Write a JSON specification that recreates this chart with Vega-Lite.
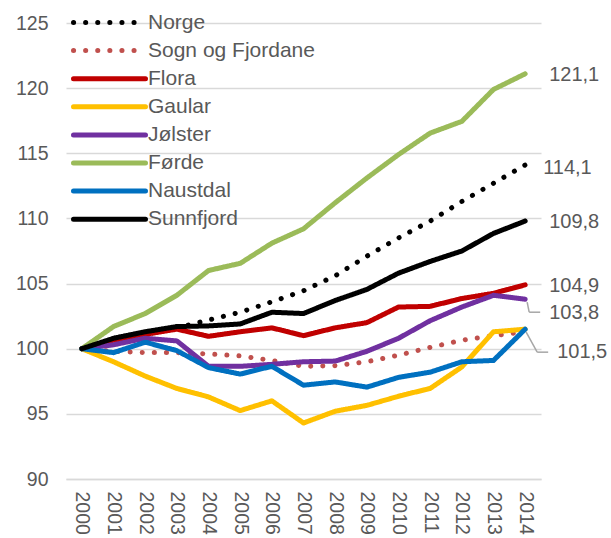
{
  "$schema": "https://vega.github.io/schema/vega-lite/v6.json",
  "width": 475,
  "height": 456,
  "autosize": {"type": "none"},
  "padding": {"left": 66, "top": 23, "right": 70, "bottom": 59},
  "background": "white",
  "config": {
    "view": {"stroke": null},
    "font": "Liberation Sans",
    "locale": {"number": {"decimal": ",", "thousands": " ", "grouping": [3], "currency": ["", " kr"]}}
  },
  "data": {
    "values": [
      {"year": "2000", "Norge": 100, "Sogn og Fjordane": 100, "Flora": 100, "Gaular": 100, "Jølster": 100, "Førde": 100, "Naustdal": 100, "Sunnfjord": 100},
      {"year": "2001", "Norge": 100.6, "Sogn og Fjordane": 99.8, "Flora": 100.65, "Gaular": 99.0, "Jølster": 100.3, "Førde": 101.7, "Naustdal": 99.7, "Sunnfjord": 100.8},
      {"year": "2002", "Norge": 101.1, "Sogn og Fjordane": 99.7, "Flora": 101.1, "Gaular": 97.9, "Jølster": 100.8, "Førde": 102.7, "Naustdal": 100.5, "Sunnfjord": 101.3},
      {"year": "2003", "Norge": 101.6, "Sogn og Fjordane": 99.7, "Flora": 101.5, "Gaular": 96.95, "Jølster": 100.6, "Førde": 104.1, "Naustdal": 99.85, "Sunnfjord": 101.7},
      {"year": "2004", "Norge": 102.2, "Sogn og Fjordane": 99.6, "Flora": 100.95, "Gaular": 96.3, "Jølster": 98.65, "Førde": 106.0, "Naustdal": 98.55, "Sunnfjord": 101.75},
      {"year": "2005", "Norge": 102.8, "Sogn og Fjordane": 99.45, "Flora": 101.3, "Gaular": 95.25, "Jølster": 98.65, "Førde": 106.55, "Naustdal": 98.05, "Sunnfjord": 101.9},
      {"year": "2006", "Norge": 103.6, "Sogn og Fjordane": 99.1, "Flora": 101.6, "Gaular": 96.0, "Jølster": 98.8, "Førde": 108.1, "Naustdal": 98.65, "Sunnfjord": 102.8},
      {"year": "2007", "Norge": 104.45, "Sogn og Fjordane": 98.65, "Flora": 101.0, "Gaular": 94.3, "Jølster": 99.0, "Førde": 109.2, "Naustdal": 97.2, "Sunnfjord": 102.7},
      {"year": "2008", "Norge": 105.6, "Sogn og Fjordane": 98.7, "Flora": 101.6, "Gaular": 95.2, "Jølster": 99.05, "Førde": 111.2, "Naustdal": 97.45, "Sunnfjord": 103.7},
      {"year": "2009", "Norge": 107.1, "Sogn og Fjordane": 99.0, "Flora": 102.0, "Gaular": 95.65, "Jølster": 99.8, "Førde": 113.1, "Naustdal": 97.05, "Sunnfjord": 104.55},
      {"year": "2010", "Norge": 108.5, "Sogn og Fjordane": 99.5, "Flora": 103.2, "Gaular": 96.35, "Jølster": 100.8, "Førde": 114.9, "Naustdal": 97.8, "Sunnfjord": 105.8},
      {"year": "2011", "Norge": 109.8, "Sogn og Fjordane": 100.1, "Flora": 103.25, "Gaular": 96.95, "Jølster": 102.15, "Førde": 116.55, "Naustdal": 98.2, "Sunnfjord": 106.7},
      {"year": "2012", "Norge": 111.3, "Sogn og Fjordane": 100.65, "Flora": 103.85, "Gaular": 98.6, "Jølster": 103.2, "Førde": 117.45, "Naustdal": 99.0, "Sunnfjord": 107.5},
      {"year": "2013", "Norge": 112.7, "Sogn og Fjordane": 101.0, "Flora": 104.25, "Gaular": 101.3, "Jølster": 104.1, "Førde": 119.9, "Naustdal": 99.1, "Sunnfjord": 108.85},
      {"year": "2014", "Norge": 114.1, "Sogn og Fjordane": 101.3, "Flora": 104.9, "Gaular": 101.5, "Jølster": 103.8, "Førde": 121.1, "Naustdal": 101.5, "Sunnfjord": 109.8}
    ]
  },
  "transform": [
    {"fold": ["Norge", "Sogn og Fjordane", "Flora", "Gaular", "Jølster", "Førde", "Naustdal", "Sunnfjord"], "as": ["series", "value"]}
  ],
  "encoding": {
    "x": {
      "field": "year", "type": "ordinal",
      "scale": {"type": "point", "padding": 0.5},
      "axis": {
        "title": null, "labelAngle": 90, "labelAlign": "left", "labelBaseline": "middle",
        "labelFontSize": 19.5, "labelColor": "#595959", "labelPadding": 12,
        "ticks": false, "domainColor": "#d9d9d9", "domainWidth": 1.5, "grid": false
      }
    },
    "y": {
      "field": "value", "type": "quantitative",
      "scale": {"domain": [90, 125], "nice": false, "zero": false},
      "axis": {
        "title": null, "values": [90, 95, 100, 105, 110, 115, 120, 125],
        "labelFontSize": 19.5, "labelColor": "#595959", "labelPadding": 18,
        "ticks": false, "domain": false, "gridColor": "#d9d9d9", "gridWidth": 1.3
      }
    }
  },
  "layer": [
    {
      "mark": {"type": "line", "strokeWidth": 5, "strokeCap": "round", "strokeJoin": "round"},
      "encoding": {
        "color": {
          "field": "series", "type": "nominal",
          "scale": {
            "domain": ["Norge", "Sogn og Fjordane", "Flora", "Gaular", "Jølster", "Førde", "Naustdal", "Sunnfjord"],
            "range": ["#000000", "#C0504D", "#C00000", "#FFC000", "#7030A0", "#9BBB59", "#0070C0", "#000000"]
          },
          "legend": {
            "title": null, "orient": "none", "legendX": 29, "legendY": -15,
            "labelFontSize": 21, "labelColor": "#595959", "labelFont": "Liberation Sans", "labelLimit": 400,
            "symbolType": "M-3,0H3", "symbolSize": 576, "symbolStrokeWidth": 5,
            "rowPadding": 3.1, "labelOffset": 24,
            "encode": {"symbols": {"update": {"strokeCap": {"value": "round"}, "fill": {"value": "transparent"}}}}
          }
        },
        "strokeDash": {
          "field": "series", "type": "nominal",
          "scale": {
            "domain": ["Norge", "Sogn og Fjordane", "Flora", "Gaular", "Jølster", "Førde", "Naustdal", "Sunnfjord"],
            "range": [[0.1, 12], [0.1, 12], [1, 0], [1, 0], [1, 0], [1, 0], [1, 0], [1, 0]]
          },
          "legend": {
            "title": null, "orient": "none", "legendX": 29, "legendY": -15,
            "labelFontSize": 21, "labelColor": "#595959", "labelFont": "Liberation Sans", "labelLimit": 400,
            "symbolType": "M-3,0H3", "symbolSize": 576, "symbolStrokeWidth": 5,
            "rowPadding": 3.1, "labelOffset": 24,
            "encode": {"symbols": {"update": {"strokeCap": {"value": "round"}, "fill": {"value": "transparent"}}}}
          }
        }
      }
    },
    {
      "transform": [{"filter": "datum.year == '2014' && (datum.series == 'Førde' || datum.series == 'Sunnfjord' || datum.series == 'Flora')"}],
      "mark": {"type": "text", "align": "left", "baseline": "middle", "dx": 24, "dy": 1, "fontSize": 20, "color": "#595959"},
      "encoding": {"text": {"field": "value", "type": "quantitative", "format": ".1f"}}
    },
    {
      "transform": [{"filter": "datum.year == '2014' && datum.series == 'Norge'"}],
      "mark": {"type": "text", "align": "left", "baseline": "middle", "dx": 18, "dy": 3, "fontSize": 20, "color": "#595959"},
      "encoding": {"text": {"field": "value", "type": "quantitative", "format": ".1f"}}
    },
    {
      "transform": [{"filter": "datum.year == '2014' && datum.series == 'Jølster'"}],
      "mark": {"type": "text", "align": "left", "baseline": "middle", "dx": 24, "dy": 14, "fontSize": 20, "color": "#595959"},
      "encoding": {"text": {"field": "value", "type": "quantitative", "format": ".1f"}}
    },
    {
      "transform": [{"filter": "datum.year == '2014' && datum.series == 'Naustdal'"}],
      "mark": {"type": "text", "align": "left", "baseline": "middle", "dx": 32, "dy": 23, "fontSize": 20, "color": "#595959"},
      "encoding": {"text": {"field": "value", "type": "quantitative", "format": ".1f"}}
    },
    {
      "transform": [{"filter": "datum.year == '2014' && datum.series == 'Jølster'"}],
      "mark": {"type": "rule", "color": "#A6A6A6", "strokeWidth": 1.5, "xOffset": 2, "yOffset": 3, "x2Offset": 4, "y2Offset": 13},
      "encoding": {"x2": {"field": "year"}, "y2": {"field": "value"}}
    },
    {
      "transform": [{"filter": "datum.year == '2014' && datum.series == 'Jølster'"}],
      "mark": {"type": "rule", "color": "#A6A6A6", "strokeWidth": 1.5, "xOffset": 4, "yOffset": 13, "x2Offset": 15, "y2Offset": 13},
      "encoding": {"x2": {"field": "year"}, "y2": {"field": "value"}}
    },
    {
      "transform": [{"filter": "datum.year == '2014' && datum.series == 'Naustdal'"}],
      "mark": {"type": "rule", "color": "#A6A6A6", "strokeWidth": 1.5, "xOffset": 1, "yOffset": 3, "x2Offset": 12, "y2Offset": 23},
      "encoding": {"x2": {"field": "year"}, "y2": {"field": "value"}}
    },
    {
      "transform": [{"filter": "datum.year == '2014' && datum.series == 'Naustdal'"}],
      "mark": {"type": "rule", "color": "#A6A6A6", "strokeWidth": 1.5, "xOffset": 12, "yOffset": 23, "x2Offset": 23, "y2Offset": 23},
      "encoding": {"x2": {"field": "year"}, "y2": {"field": "value"}}
    }
  ]
}
